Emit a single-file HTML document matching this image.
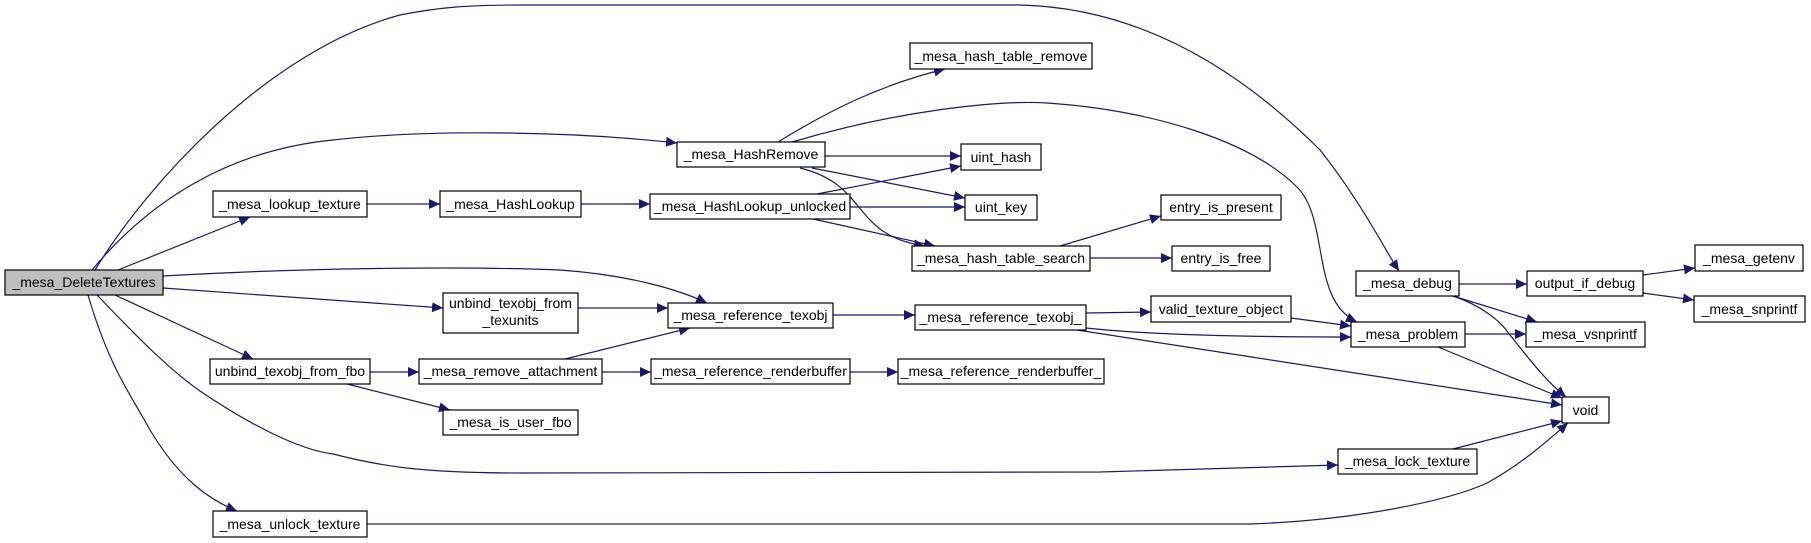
<!DOCTYPE html>
<html><head><meta charset="utf-8"><style>
html,body{margin:0;padding:0;background:#fff;}
svg{display:block;}
text{font-family:"Liberation Sans",sans-serif;font-size:14px;fill:#000;}
</style></head><body>
<svg width="1811" height="543" viewBox="0 0 1811 543" xmlns="http://www.w3.org/2000/svg">
<defs>
<marker id="a" markerWidth="12" markerHeight="10" refX="11" refY="5" orient="auto" markerUnits="userSpaceOnUse">
<path d="M0,0 L11,5 L0,10 z" fill="#191970"/>
</marker>
</defs>
<g fill="none" stroke="#191970" stroke-width="1.2" marker-end="url(#a)">
<path d="M95,270 C150,180 270,50 400,15 C440,7 470,5 520,5 L1020,5 C1150,8 1250,80 1320,150 C1360,200 1385,250 1399,271"/>
<path d="M92,270 C150,200 230,150 333,140 C420,130 560,130 677,143"/>
<path d="M118,270 L250,217"/>
<path d="M163,276 C300,268 460,266 560,270 C630,275 680,290 707,303"/>
<path d="M163,288 L443,308"/>
<path d="M115,295 L253,359"/>
<path d="M97,295 C140,340 170,370 200,391 C250,425 300,450 333,454 C380,466 420,473 520,473 L1100,472 L1338,465"/>
<path d="M88,295 C110,370 133,398 150,430 C180,480 210,500 237,511"/>
<path d="M367,204 L440,204"/>
<path d="M581,204 L650,204"/>
<path d="M778,142 C830,110 880,85 945,69"/>
<path d="M792,142 C900,110 1000,100 1047,103 C1150,110 1250,140 1297,187 C1330,220 1310,300 1357,322"/>
<path d="M825,156 L961,156"/>
<path d="M812,168 L965,198"/>
<path d="M800,168 C870,185 850,235 925,246"/>
<path d="M817,194 L961,166"/>
<path d="M850,207 L965,207"/>
<path d="M813,219 L935,246"/>
<path d="M1060,246 L1161,216"/>
<path d="M1090,258 L1172,258"/>
<path d="M578,308 L668,308"/>
<path d="M833,315 L915,315"/>
<path d="M1086,313 L1151,312"/>
<path d="M1291,318 L1351,326"/>
<path d="M1086,328 C1150,335 1250,337 1351,337"/>
<path d="M1077,330 L1562,405"/>
<path d="M1465,334 L1526,334"/>
<path d="M1438,347 L1562,398"/>
<path d="M1459,284 L1527,284"/>
<path d="M1453,296 L1537,322"/>
<path d="M1453,296 C1480,305 1500,320 1510,335 C1530,360 1545,380 1566,397"/>
<path d="M1643,275 L1695,268"/>
<path d="M1643,293 L1694,300"/>
<path d="M370,372 L419,372"/>
<path d="M347,384 L450,410"/>
<path d="M565,359 L690,328"/>
<path d="M602,372 L651,372"/>
<path d="M850,372 L898,372"/>
<path d="M1453,449 L1562,421"/>
<path d="M367,524 L1250,524 C1360,520 1450,500 1487,483 C1520,465 1545,443 1568,423"/>
</g>
<g stroke="#000" stroke-width="1.2" fill="#fff">
<rect x="5" y="270" width="158" height="25" fill="#bfbfbf"/>
<rect x="213" y="191" width="154" height="26"/>
<rect x="440" y="191" width="141" height="26"/>
<rect x="677" y="142" width="148" height="25"/>
<rect x="910" y="43" width="182" height="26"/>
<rect x="650" y="194" width="200" height="25"/>
<rect x="961" y="144" width="80" height="26"/>
<rect x="965" y="195" width="72" height="25"/>
<rect x="912" y="246" width="178" height="25"/>
<rect x="1161" y="195" width="120" height="25"/>
<rect x="1172" y="246" width="98" height="25"/>
<rect x="443" y="293" width="135" height="40"/>
<rect x="668" y="303" width="165" height="25"/>
<rect x="915" y="305" width="171" height="25"/>
<rect x="1151" y="296" width="140" height="26"/>
<rect x="1356" y="271" width="103" height="25"/>
<rect x="1351" y="322" width="114" height="25"/>
<rect x="1527" y="271" width="116" height="25"/>
<rect x="1695" y="245" width="108" height="26"/>
<rect x="1694" y="296" width="111" height="26"/>
<rect x="1526" y="322" width="119" height="25"/>
<rect x="1562" y="397" width="47" height="26"/>
<rect x="210" y="359" width="160" height="25"/>
<rect x="419" y="359" width="183" height="25"/>
<rect x="651" y="359" width="199" height="25"/>
<rect x="898" y="359" width="206" height="25"/>
<rect x="443" y="410" width="135" height="25"/>
<rect x="1338" y="449" width="139" height="25"/>
<rect x="213" y="511" width="154" height="26"/>
</g>
<g text-anchor="middle">
<text x="84" y="287">_mesa_DeleteTextures</text>
<text x="290" y="209">_mesa_lookup_texture</text>
<text x="510.5" y="209">_mesa_HashLookup</text>
<text x="751" y="159">_mesa_HashRemove</text>
<text x="1001" y="61">_mesa_hash_table_remove</text>
<text x="750" y="211">_mesa_HashLookup_unlocked</text>
<text x="1001" y="162">uint_hash</text>
<text x="1001" y="212">uint_key</text>
<text x="1001" y="263">_mesa_hash_table_search</text>
<text x="1221" y="212">entry_is_present</text>
<text x="1221" y="263">entry_is_free</text>
<text x="510.5" y="308">unbind_texobj_from</text>
<text x="510.5" y="325">_texunits</text>
<text x="750.5" y="320">_mesa_reference_texobj</text>
<text x="1000.5" y="322">_mesa_reference_texobj_</text>
<text x="1221" y="314">valid_texture_object</text>
<text x="1407.5" y="288">_mesa_debug</text>
<text x="1408" y="339">_mesa_problem</text>
<text x="1585" y="288">output_if_debug</text>
<text x="1749" y="263">_mesa_getenv</text>
<text x="1749.5" y="314">_mesa_snprintf</text>
<text x="1585.5" y="339">_mesa_vsnprintf</text>
<text x="1585.5" y="415">void</text>
<text x="290" y="376">unbind_texobj_from_fbo</text>
<text x="510.5" y="376">_mesa_remove_attachment</text>
<text x="750.5" y="376">_mesa_reference_renderbuffer</text>
<text x="1001" y="376">_mesa_reference_renderbuffer_</text>
<text x="510.5" y="427">_mesa_is_user_fbo</text>
<text x="1407.5" y="466">_mesa_lock_texture</text>
<text x="290" y="529">_mesa_unlock_texture</text>
</g>
</svg>
</body></html>
